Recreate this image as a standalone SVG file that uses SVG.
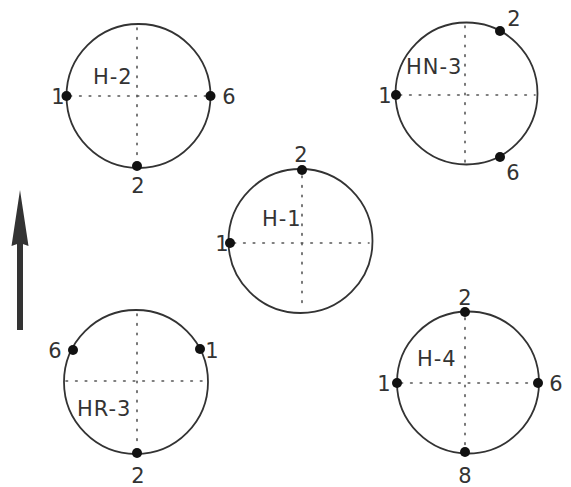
<svg xmlns="http://www.w3.org/2000/svg" width="571" height="487" viewBox="0 0 571 487">
<style>
.ring{fill:none;stroke:#333;stroke-width:1.8}
.axis{stroke:#555;stroke-width:1.6;stroke-dasharray:1.6 8;stroke-linecap:round}
.pin{fill:#111}
.name{font-family:"DejaVu Sans","Liberation Sans",sans-serif;font-size:21px;letter-spacing:1px;fill:#333}
.num{font-family:"DejaVu Sans","Liberation Sans",sans-serif;font-size:21px;fill:#333}
</style>
<rect width="571" height="487" fill="#fff"/>
<g id="H-2">
<circle class="ring" cx="138.5" cy="96" r="72"/>
<line class="axis" x1="70" y1="96" x2="207" y2="96"/>
<line class="axis" x1="137" y1="28" x2="137" y2="162"/>
<circle class="pin" cx="66.5" cy="96" r="5"/>
<circle class="pin" cx="210.5" cy="96" r="5"/>
<circle class="pin" cx="137" cy="166" r="5"/>
<text class="name" x="93" y="84">H-2</text>
<text class="num" x="58" y="104" text-anchor="middle">1</text>
<text class="num" x="229" y="104" text-anchor="middle">6</text>
<text class="num" x="138" y="193" text-anchor="middle">2</text>
</g>
<g id="HN-3">
<circle class="ring" cx="466.5" cy="93.5" r="71"/>
<line class="axis" x1="400" y1="95" x2="535" y2="95"/>
<line class="axis" x1="465" y1="26" x2="465" y2="162"/>
<circle class="pin" cx="396" cy="95" r="5"/>
<circle class="pin" cx="500" cy="31" r="5"/>
<circle class="pin" cx="500" cy="157" r="5"/>
<text class="name" x="406" y="74">HN-3</text>
<text class="num" x="385" y="103" text-anchor="middle">1</text>
<text class="num" x="514" y="26" text-anchor="middle">2</text>
<text class="num" x="513" y="180" text-anchor="middle">6</text>
</g>
<g id="H-1">
<circle class="ring" cx="300.5" cy="241" r="72"/>
<line class="axis" x1="234" y1="243" x2="369" y2="243"/>
<line class="axis" x1="302" y1="176" x2="302" y2="310"/>
<circle class="pin" cx="302" cy="170" r="5"/>
<circle class="pin" cx="230" cy="243" r="5"/>
<text class="name" x="262" y="226">H-1</text>
<text class="num" x="301" y="162" text-anchor="middle">2</text>
<text class="num" x="222" y="251" text-anchor="middle">1</text>
</g>
<g id="HR-3">
<circle class="ring" cx="136" cy="382" r="72"/>
<line class="axis" x1="66" y1="381" x2="206" y2="381"/>
<line class="axis" x1="137" y1="314" x2="137" y2="448"/>
<circle class="pin" cx="73" cy="350" r="5"/>
<circle class="pin" cx="200" cy="349" r="5"/>
<circle class="pin" cx="137" cy="453" r="5"/>
<text class="name" x="77" y="416">HR-3</text>
<text class="num" x="55" y="358" text-anchor="middle">6</text>
<text class="num" x="212" y="358" text-anchor="middle">1</text>
<text class="num" x="138" y="483" text-anchor="middle">2</text>
</g>
<g id="H-4">
<circle class="ring" cx="468" cy="382.5" r="71"/>
<line class="axis" x1="401" y1="383" x2="535" y2="383"/>
<line class="axis" x1="465" y1="318" x2="465" y2="448"/>
<circle class="pin" cx="465" cy="312" r="5"/>
<circle class="pin" cx="397" cy="383" r="5"/>
<circle class="pin" cx="538" cy="383" r="5"/>
<circle class="pin" cx="465" cy="452" r="5"/>
<text class="name" x="417" y="366">H-4</text>
<text class="num" x="465" y="305" text-anchor="middle">2</text>
<text class="num" x="384" y="391" text-anchor="middle">1</text>
<text class="num" x="556" y="391" text-anchor="middle">6</text>
<text class="num" x="465" y="483" text-anchor="middle">8</text>
</g>
<g id="connectors">
<line x1="20" y1="330" x2="20" y2="240" stroke="#333" stroke-width="6"/>
<path d="M20,190 L28.5,246 L20,243 L11.5,246 Z" fill="#333"/>
</g>
</svg>
